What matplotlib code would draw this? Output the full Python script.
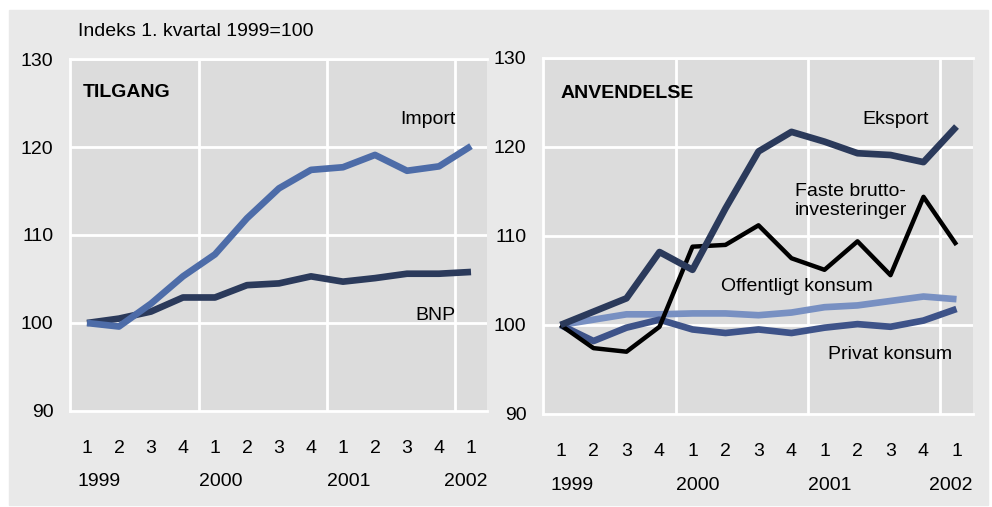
import matplotlib
matplotlib.use('Agg')
import matplotlib.pyplot as plt
from matplotlib import font_manager
from matplotlib.patches import Rectangle
import matplotlib.transforms as mtransforms

names = {f.name for f in font_manager.fontManager.ttflist}
fam = 'Liberation Sans Narrow' if 'Liberation Sans Narrow' in names else 'Liberation Sans'
plt.rcParams['font.family'] = [fam, 'DejaVu Sans']

# Data (index, 1. kvartal 1999 = 100)
quarters = ['1', '2', '3', '4', '1', '2', '3', '4', '1', '2', '3', '4', '1']
years = ['1999', '2000', '2001', '2002']

import_ = [100, 99.6, 102.2, 105.3, 107.8, 111.9, 115.3, 117.4, 117.7, 119.1, 117.3, 117.8, 120.1]
bnp = [100, 100.5, 101.3, 102.9, 102.9, 104.3, 104.5, 105.3, 104.7, 105.1, 105.6, 105.6, 105.8]

eksport = [100, 101.5, 103.0, 108.2, 106.2, 113.1, 119.5, 121.7, 120.6, 119.3, 119.1, 118.3, 122.3]
investering = [100, 97.4, 97.0, 99.8, 108.8, 109.0, 111.2, 107.5, 106.2, 109.4, 105.6, 114.4, 109.0]
offentlig = [100, 100.6, 101.2, 101.2, 101.3, 101.3, 101.1, 101.4, 102.0, 102.2, 102.7, 103.2, 102.9]
privat = [100, 98.2, 99.7, 100.6, 99.5, 99.1, 99.5, 99.1, 99.7, 100.1, 99.8, 100.5, 101.8]

x = list(range(len(quarters)))

fig = plt.figure(figsize=(9.92, 5.07), dpi=100)
fig.patch.set_facecolor('white')
fig.patches.append(Rectangle((9 / 992, 2 / 507), 979 / 992, 495 / 507,
                             transform=fig.transFigure, color='#e9e9e9', zorder=-5))

ax1 = fig.add_axes([70 / 992, 96 / 507, 417 / 992, 352 / 507])
ax2 = fig.add_axes([543 / 992, 93 / 507, 430 / 992, 356 / 507])

fs = 14
for ax in (ax1, ax2):
    ax.set_facecolor('#dcdcdc')
    ax.set_xlim(-0.53, 12.5)
    ax.set_ylim(90, 130)
    ax.set_yticks([90, 100, 110, 120, 130])
    ax.set_xticks(x)
    ax.set_xticklabels(quarters)
    ax.tick_params(length=0, labelsize=fs, colors='black')
    ax.tick_params(axis='y', pad=12)
    ax.tick_params(axis='x', pad=21)
    for y in [100, 110, 120, 130]:
        ax.axhline(y, color='white', lw=2, zorder=1)
    for xv in [3.5, 7.5, 11.5]:
        ax.axvline(xv, color='white', lw=2, zorder=1)
    for s in ['left', 'bottom', 'top']:
        ax.spines[s].set_color('white')
        ax.spines[s].set_linewidth(2)
    ax.spines['right'].set_visible(False)
    trans = mtransforms.blended_transform_factory(ax.transData, ax.transAxes)
    for xv, yr, ha in [(-0.3, years[0], 'left'), (3.5, years[1], 'left'),
                       (7.5, years[2], 'left'), (12.5, years[3], 'right')]:
        ax.text(xv, -0.2, yr, transform=trans, ha=ha, va='center', fontsize=fs)

# Tilgang
ax1.plot(x, bnp, color='#2b3a5b', lw=4.8, solid_capstyle='butt', zorder=3)
ax1.plot(x, import_, color='#4d6ca8', lw=4.8, solid_capstyle='butt', zorder=4)
ax1.text(0.03, 0.905, 'TILGANG', transform=ax1.transAxes, fontsize=fs,
         fontweight='bold', va='center', ha='left')
ax1.text(10.66, 123.1, 'Import', fontsize=fs, ha='center', va='center')
ax1.text(10.9, 100.9, 'BNP', fontsize=fs, ha='center', va='center')
fig.text(78 / 992, 1 - 31 / 507, 'Indeks 1. kvartal 1999=100', fontsize=fs,
         ha='left', va='center')

# Anvendelse
ax2.plot(x, offentlig, color='#7890c2', lw=4.8, solid_capstyle='butt', zorder=3)
ax2.plot(x, privat, color='#3e5389', lw=4.8, solid_capstyle='butt', zorder=4)
ax2.plot(x, investering, color='black', lw=3.2, solid_capstyle='butt', zorder=5)
ax2.plot(x, eksport, color='#2b3a5b', lw=4.8, solid_capstyle='butt', zorder=6)
ax2.text(0.04, 0.9, 'ANVENDELSE', transform=ax2.transAxes, fontsize=fs,
         fontweight='bold', va='center', ha='left')
ax2.text(10.15, 123.1, 'Eksport', fontsize=fs, ha='center', va='center')
ax2.text(7.1, 113.9, 'Faste brutto-\ninvesteringer', fontsize=fs, ha='left',
         va='center', linespacing=1.15)
ax2.text(7.15, 104.3, 'Offentligt konsum', fontsize=fs, ha='center', va='center')
ax2.text(10.0, 96.7, 'Privat konsum', fontsize=fs, ha='center', va='center')

fig.savefig('out.png', dpi=100, facecolor=fig.get_facecolor())
